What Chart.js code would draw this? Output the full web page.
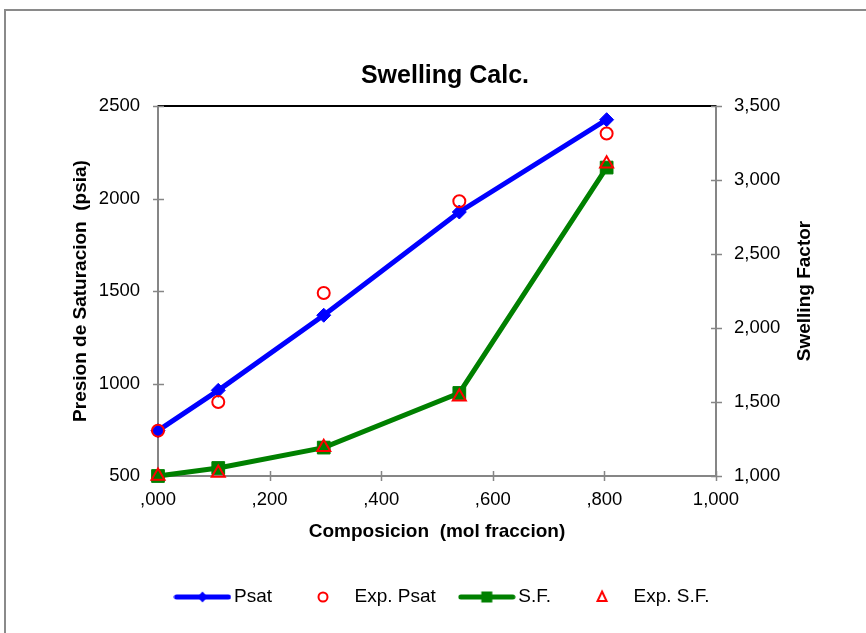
<!DOCTYPE html>
<html>
<head>
<meta charset="utf-8">
<title>Swelling Calc.</title>
<script src="https://cdn.jsdelivr.net/npm/chart.js@4.4.1/dist/chart.umd.min.js"></script>
<style>
  html, body { margin: 0; padding: 0; background: #fff; overflow: hidden; }
  #wrap { position: relative; width: 866px; height: 633px; overflow: hidden; background: #fff; }
  /* outer frame, only the left and top edges fall inside the page */
  #frame {
    position: absolute; left: 4px; top: 9px; width: 960px; height: 700px;
    border-left: 2px solid #8a8a8a; border-top: 2px solid #8a8a8a;
  }
  #swelling-chart { position: absolute; left: 0; top: 0; }
</style>
</head>
<body>
<div id="wrap">
  <div id="frame"></div>
  <canvas id="swelling-chart" width="890" height="633"></canvas>
</div>
<script>
// composition (mol fraction) of the injected gas
const composition = [0.000, 0.108, 0.297, 0.540, 0.804];

// saturation pressure, psia
const psatCalc = [745, 963, 1369, 1927, 2426];
const psatExp = [745, 900, 1489, 1985, 2351];

// swelling factor
const swellCalc = [1.000, 1.054, 1.192, 1.561, 3.084];
const swellExp = [1.000, 1.020, 1.195, 1.535, 3.110];

// axis tick values
const compTicks = [0, 0.2, 0.4, 0.6, 0.8, 1.0];
const psatTicks = [500, 1000, 1500, 2000, 2500];
const swellTicks = [1.0, 1.5, 2.0, 2.5, 3.0, 3.5];

const FONT = "'Liberation Sans', Arial, sans-serif";
const AXIS_GREY = '#868686';
const BLUE = '#0000ff';
const GREEN = '#008000';
const RED = '#ff0000';

// spanish style decimals: ",200" / "1,000"
function commaDecimal(v) {
    const s = Number(v).toFixed(3).replace('.', ',');
    return s.charAt(0) === '0' ? s.slice(1) : s;
}

function pairs(xs, ys) {
    return xs.map((x, i) => ({ x: x, y: ys[i] }));
}

function fixedTicks(values) {
    return (scale) => {
        scale.ticks = values.map((v) => ({ value: v }));
    };
}

/**
 * Small canvases used as legend symbols: optional line plus marker.
 */
function legendSymbol(lineColor, marker) {
    const c = document.createElement('canvas');
    c.width = 58;
    c.height = 20;
    const ctx = c.getContext('2d');
    const cx = 29, cy = 10;
    if (lineColor) {
        ctx.strokeStyle = lineColor;
        ctx.lineWidth = 5;
        ctx.lineCap = 'round';
        ctx.beginPath();
        ctx.moveTo(3, cy);
        ctx.lineTo(55, cy);
        ctx.stroke();
    }
    ctx.beginPath();
    if (marker === 'diamond') {
        ctx.fillStyle = BLUE;
        ctx.moveTo(cx, cy - 5.5);
        ctx.lineTo(cx + 5, cy);
        ctx.lineTo(cx, cy + 5.5);
        ctx.lineTo(cx - 5, cy);
        ctx.closePath();
        ctx.fill();
    } else if (marker === 'square') {
        ctx.fillStyle = GREEN;
        ctx.fillRect(cx - 5.5, cy - 5.5, 11, 11);
    } else if (marker === 'circle') {
        ctx.strokeStyle = RED;
        ctx.lineWidth = 2;
        ctx.arc(cx, cy, 4.5, 0, Math.PI * 2);
        ctx.stroke();
    } else if (marker === 'triangle') {
        ctx.strokeStyle = RED;
        ctx.lineWidth = 2;
        ctx.moveTo(cx, cy - 5.5);
        ctx.lineTo(cx + 4.5, cy + 4);
        ctx.lineTo(cx - 4.5, cy + 4);
        ctx.closePath();
        ctx.stroke();
    }
    return c;
}

const legendImages = [
    legendSymbol(BLUE, 'diamond'),
    legendSymbol(null, 'circle'),
    legendSymbol(GREEN, 'square'),
    legendSymbol(null, 'triangle'),
];

// top edge of the plot area plus tick marks crossing each axis
const axisDecor = {
    id: 'axisDecor',
    beforeDatasetsDraw(chart) {
        const { ctx, chartArea: a, scales } = chart;
        ctx.save();
        ctx.strokeStyle = '#000';
        ctx.lineWidth = 2;
        ctx.beginPath();
        ctx.moveTo(a.left, a.top);
        ctx.lineTo(a.right, a.top);
        ctx.stroke();

        ctx.strokeStyle = AXIS_GREY;
        ctx.lineWidth = 1.5;
        ctx.beginPath();
        scales.x.ticks.forEach((t) => {
            const px = Math.round(scales.x.getPixelForValue(t.value)) + 0.5;
            ctx.moveTo(px, a.bottom - 5);
            ctx.lineTo(px, a.bottom + 5);
        });
        scales.y.ticks.forEach((t) => {
            const py = Math.round(scales.y.getPixelForValue(t.value)) + 0.5;
            ctx.moveTo(a.left - 5, py);
            ctx.lineTo(a.left + 6, py);
        });
        scales.y1.ticks.forEach((t) => {
            const py = Math.round(scales.y1.getPixelForValue(t.value)) + 0.5;
            ctx.moveTo(a.right - 5, py);
            ctx.lineTo(a.right + 6, py);
        });
        ctx.stroke();
        ctx.restore();
    },
    afterDraw(chart) {
        // right axis title reads bottom-to-top like the left one
        const { ctx, chartArea: a } = chart;
        ctx.save();
        ctx.translate(a.right + 89, (a.top + a.bottom) / 2);
        ctx.rotate(-Math.PI / 2);
        ctx.fillStyle = '#000';
        ctx.font = 'bold 19px ' + FONT;
        ctx.textAlign = 'center';
        ctx.textBaseline = 'middle';
        ctx.fillText('Swelling Factor', 0, 0);
        ctx.restore();
    },
};

const tickFont = { family: FONT, size: 18.5 };
const titleFont = { family: FONT, size: 19, weight: 'bold' };

new Chart(document.getElementById('swelling-chart'), {
    type: 'line',
    data: {
        datasets: [
            {
                label: 'Psat',
                data: pairs(composition, psatCalc),
                yAxisID: 'y',
                borderColor: BLUE,
                backgroundColor: BLUE,
                borderWidth: 5,
                pointStyle: 'rectRot',
                pointRadius: 7,
                pointBorderWidth: 1,
                pointBackgroundColor: BLUE,
                pointBorderColor: BLUE,
                order: 1,
                clip: false,
            },
            {
                label: 'Exp. Psat',
                data: pairs(composition, psatExp),
                yAxisID: 'y',
                showLine: false,
                pointStyle: 'circle',
                pointRadius: 6,
                pointBorderWidth: 2,
                pointBorderColor: RED,
                pointBackgroundColor: 'rgba(0,0,0,0)',
                order: 0,
                clip: false,
            },
            {
                label: 'S.F.',
                data: pairs(composition, swellCalc),
                yAxisID: 'y1',
                borderColor: GREEN,
                backgroundColor: GREEN,
                borderWidth: 5,
                pointStyle: 'rect',
                pointRadius: 9,
                pointBorderWidth: 1,
                pointBackgroundColor: GREEN,
                pointBorderColor: GREEN,
                order: 1,
                clip: false,
            },
            {
                label: 'Exp. S.F.',
                data: pairs(composition, swellExp),
                yAxisID: 'y1',
                showLine: false,
                pointStyle: 'triangle',
                pointRadius: 7.5,
                pointBorderWidth: 2,
                pointBorderColor: RED,
                pointBackgroundColor: 'rgba(0,0,0,0)',
                order: 0,
                clip: false,
            },
        ],
    },
    options: {
        responsive: false,
        animation: false,
        events: [],
        layout: { padding: { left: 10, right: 10, top: 0, bottom: 16.5 } },
        scales: {
            x: {
                type: 'linear',
                min: 0,
                max: 1,
                afterBuildTicks: fixedTicks(compTicks),
                afterFit: (s) => { s.height = 82.5; },
                grid: { display: false, drawTicks: false },
                border: { display: true, color: AXIS_GREY, width: 2 },
                ticks: {
                    color: '#000',
                    font: tickFont,
                    padding: 13,
                    maxRotation: 0,
                    callback: (v) => commaDecimal(v),
                },
                title: {
                    display: true,
                    text: 'Composicion  (mol fraccion)',
                    color: '#000',
                    font: titleFont,
                    padding: { top: 0, bottom: 15 },
                },
            },
            y: {
                type: 'linear',
                position: 'left',
                min: 500,
                max: 2500,
                afterBuildTicks: fixedTicks(psatTicks),
                afterFit: (s) => { s.width = 148; },
                grid: { display: false, drawTicks: false },
                border: { display: true, color: AXIS_GREY, width: 2 },
                ticks: {
                    color: '#000',
                    font: tickFont,
                    padding: 18,
                    callback: (v) => String(v),
                },
                title: {
                    display: true,
                    text: 'Presion de Saturacion  (psia)',
                    color: '#000',
                    font: titleFont,
                    padding: { top: 59.5, bottom: 0 },
                },
            },
            y1: {
                type: 'linear',
                position: 'right',
                min: 1,
                max: 3.5,
                afterBuildTicks: fixedTicks(swellTicks),
                afterFit: (s) => { s.width = 164; },
                grid: { display: false, drawTicks: false },
                border: { display: true, color: AXIS_GREY, width: 2 },
                ticks: {
                    color: '#000',
                    font: tickFont,
                    padding: 18,
                    callback: (v) => commaDecimal(v),
                },
            },
        },
        plugins: {
            title: {
                display: true,
                text: 'Swelling Calc.',
                color: '#000',
                font: { family: FONT, size: 25, weight: 'bold' },
                padding: { top: 61.5, bottom: 14.5 },
            },
            legend: {
                display: true,
                position: 'bottom',
                labels: {
                    color: '#000',
                    font: { family: FONT, size: 19 },
                    usePointStyle: true,
                    pointStyleWidth: 44,
                    padding: 29,
                    generateLabels: (chart) => chart.data.datasets.map((ds, i) => ({
                        text: ds.label,
                        pointStyle: legendImages[i],
                        fillStyle: 'rgba(0,0,0,0)',
                        strokeStyle: 'rgba(0,0,0,0)',
                        lineWidth: 0,
                        fontColor: '#000',
                        hidden: false,
                        datasetIndex: i,
                    })),
                },
            },
            tooltip: { enabled: false },
        },
    },
    plugins: [axisDecor],
});
</script>
</body>
</html>
